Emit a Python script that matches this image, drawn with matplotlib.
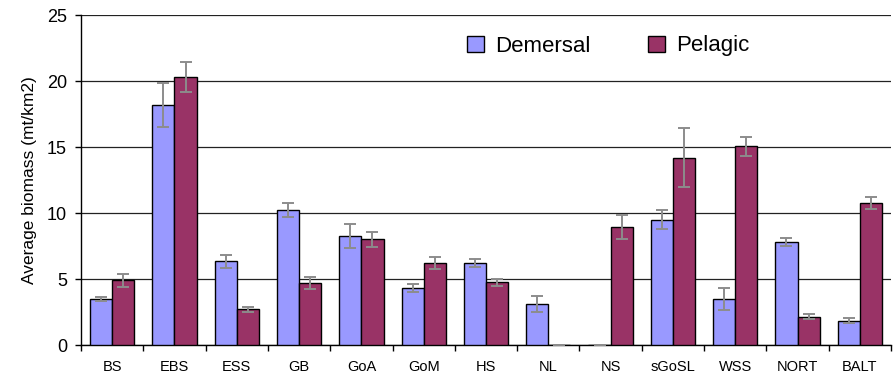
import numpy as np
import matplotlib
matplotlib.use("Agg")
import matplotlib.pyplot as plt
from matplotlib.patches import Patch

plt.rcParams['font.family'] = ['Liberation Sans', 'DejaVu Sans']

regions = ["BS", "EBS", "ESS", "GB", "GoA", "GoM", "HS", "NL", "NS", "sGoSL", "WSS", "NORT", "BALT"]
demersal = [3.5, 18.2, 6.35, 10.2, 8.25, 4.35, 6.2, 3.1, 0.0, 9.5, 3.5, 7.8, 1.85]
demersal_err = [0.15, 1.65, 0.5, 0.53, 0.88, 0.3, 0.3, 0.58, 0.0, 0.72, 0.85, 0.3, 0.2]
pelagic = [4.9, 20.3, 2.7, 4.7, 8.0, 6.2, 4.75, 0.0, 8.95, 14.2, 15.05, 2.15, 10.75]
pelagic_err = [0.47, 1.15, 0.2, 0.47, 0.58, 0.47, 0.27, 0.0, 0.9, 2.25, 0.7, 0.2, 0.43]
series_names = ["Demersal", "Pelagic"]
colors = ["#9999FF", "#993366"]

fig = plt.figure(figsize=(8.94, 3.75), dpi=100)
ax = fig.add_axes([81 / 894, 1 - 345 / 375, 810 / 894, 330 / 375])

x = np.arange(len(regions))
w = 0.355
err_kw = dict(ecolor="#8c8c8c", elinewidth=1.4, capsize=4, capthick=1.4)
ax.bar(x - w / 2, demersal, w, color=colors[0], edgecolor="black", linewidth=1.0,
       yerr=[0 if v == 0 else e for v, e in zip(demersal, demersal_err)],
       error_kw=err_kw, zorder=3)
ax.bar(x + w / 2, pelagic, w, color=colors[1], edgecolor="black", linewidth=1.0,
       yerr=[0 if v == 0 else e for v, e in zip(pelagic, pelagic_err)],
       error_kw=err_kw, zorder=3)

ax.set_xlim(-0.5, len(regions) - 0.5)
ax.set_ylim(0, 25)
ax.set_yticks([0, 5, 10, 15, 20, 25])
ax.yaxis.grid(True, color="#222222", linewidth=0.9)
ax.set_axisbelow(True)

ax.set_xticks(x)
ax.set_xticklabels(regions, fontsize=10.5)
ax.set_xticks(np.arange(len(regions) + 1) - 0.5, minor=True)
ax.tick_params(axis="x", which="major", length=0, pad=11)
ax.tick_params(axis="x", which="minor", length=4, width=1, direction="out")
ax.tick_params(axis="y", length=4, width=1, direction="out", pad=6, labelsize=13)

for s in ["top", "right"]:
    ax.spines[s].set_visible(False)
ax.spines["left"].set_linewidth(1.0)
ax.spines["bottom"].set_linewidth(1.0)

ax.set_ylabel("Average biomass (mt/km2)", fontsize=12.5, labelpad=7)

handles = [Patch(facecolor=c, edgecolor="black", linewidth=1.0) for c in colors]
ax.legend(handles, series_names, loc="center", bbox_to_anchor=((608 - 81) / 810, 1 - 31 / 330),
          ncol=2, frameon=False, fontsize=16, handlelength=0.75, handleheight=0.75,
          handletextpad=0.5, columnspacing=2.6)

fig.savefig("out.png", dpi=100)
